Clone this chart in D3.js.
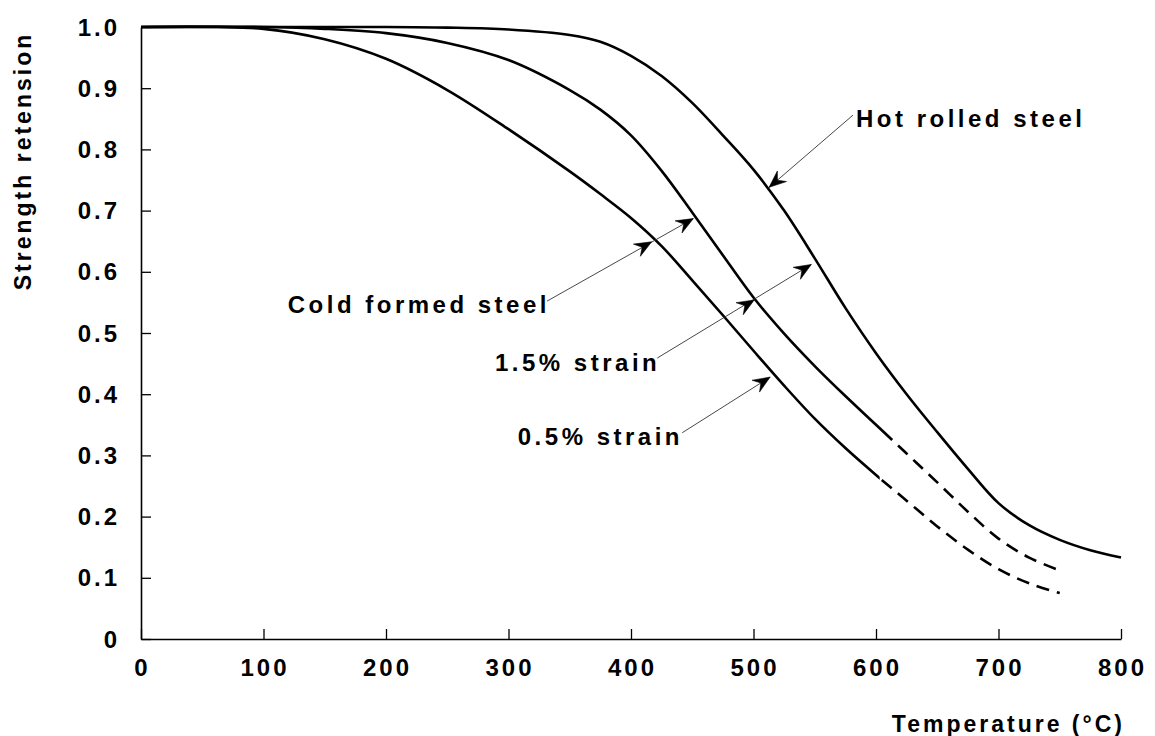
<!DOCTYPE html>
<html>
<head>
<meta charset="utf-8">
<script src="https://cdn.jsdelivr.net/npm/d3@7"></script>
<style>
  html, body { margin: 0; padding: 0; background: #fff; }
  svg { display: block; }
  text { font-family: "Liberation Sans", Arial, Helvetica, sans-serif; font-weight: bold; fill: #000; letter-spacing: 3px; }
  .annot { letter-spacing: 3.5px; }
</style>
</head>
<body>
<svg id="chart" width="1155" height="736"></svg>
<script>
// ---- data ----
const xTicks = [0, 100, 200, 300, 400, 500, 600, 700, 800];
const yTicks = [0, 0.1, 0.2, 0.3, 0.4, 0.5, 0.6, 0.7, 0.8, 0.9, 1.0];
const yTickLabels = ["0", "0.1", "0.2", "0.3", "0.4", "0.5", "0.6", "0.7", "0.8", "0.9", "1.0"];

const hotTemps   = [0, 100, 200, 250, 300, 350, 375, 400, 425, 450, 475, 500, 525, 550, 575, 600, 625, 650, 675, 700, 725, 750, 775, 800];
const hotValues  = [1.0, 1.0, 1.0, 0.999, 0.996, 0.987, 0.976, 0.953, 0.920, 0.876, 0.823, 0.767, 0.700, 0.622, 0.541, 0.467, 0.400, 0.338, 0.278, 0.222, 0.186, 0.162, 0.145, 0.133];

const c15Temps   = [0, 100, 150, 200, 250, 300, 350, 375, 400, 425, 450, 475, 500, 525, 550, 575, 600, 625, 650, 675, 700, 725, 750];
const c15Values  = [1.0, 1.0, 0.997, 0.99, 0.974, 0.946, 0.897, 0.865, 0.823, 0.765, 0.697, 0.627, 0.558, 0.499, 0.446, 0.397, 0.350, 0.303, 0.256, 0.208, 0.164, 0.133, 0.112];
const c15DashFrom = 609;

const c05Temps   = [0, 100, 150, 200, 250, 300, 350, 375, 400, 425, 450, 475, 500, 525, 550, 575, 600, 625, 650, 675, 700, 725, 750];
const c05Values  = [1.0, 0.997, 0.98, 0.948, 0.897, 0.833, 0.764, 0.727, 0.688, 0.642, 0.586, 0.529, 0.471, 0.414, 0.360, 0.312, 0.268, 0.226, 0.184, 0.146, 0.114, 0.091, 0.075];
const c05DashFrom = 603;

// annotations in data coordinates: label, text anchor point, leader start, arrow tips
const annotLabels = ["Hot rolled steel", "Cold formed steel", "1.5% strain", "0.5% strain"];
const annotText   = [[583.7, 0.837, "start"], [331.0, 0.533, "end"], [421.0, 0.438, "end"], [439.6, 0.317, "end"]];
const annotStart  = [[581.2, 0.856], [331.4, 0.552], [421.4, 0.459], [441.8, 0.337]];
const annotTips   = [[[512.7, 0.738]], [[416.9, 0.649], [450.9, 0.687]], [[500.6, 0.554], [547.2, 0.612]], [[513.6, 0.428]]];

// ---- chart ----
const svg = d3.select("#chart");
const x = d3.scaleLinear().domain([0, 800]).range([141, 1121]);
const y = d3.scaleLinear().domain([0, 1]).range([639, 27]);

// axes
const xAxis = d3.axisBottom(x).tickValues(xTicks).tickSizeInner(-10).tickSizeOuter(0).tickFormat("");
const yAxis = d3.axisLeft(y).tickValues(yTicks).tickSizeInner(-10).tickSizeOuter(0).tickFormat("");
const gx = svg.append("g").attr("transform", `translate(0,${y(0)})`).call(xAxis);
const gy = svg.append("g").attr("transform", `translate(${x(0)},0)`).call(yAxis);
[gx, gy].forEach(g => {
  g.select(".domain").attr("stroke", "#000").attr("stroke-width", 1.6);
  g.selectAll(".tick line").attr("stroke", "#000").attr("stroke-width", 1.3);
});

// tick labels
svg.append("g").selectAll("text").data(xTicks).join("text")
  .attr("x", d => x(d) + 1.5).attr("y", 676)
  .attr("text-anchor", "middle").attr("font-size", 24)
  .text(d => d);
svg.append("g").selectAll("text").data(yTicks).join("text")
  .attr("x", 120).attr("y", d => y(d)).attr("dy", "0.36em")
  .attr("text-anchor", "end").attr("font-size", 24)
  .text((d, i) => yTickLabels[i]);

// axis titles
svg.append("text").attr("x", 1125).attr("y", 732).attr("text-anchor", "end")
  .attr("font-size", 23).text("Temperature (°C)");
svg.append("text").attr("transform", "translate(31,161) rotate(-90)")
  .attr("text-anchor", "middle").attr("font-size", 23).text("Strength retension");

// clip paths for solid / dashed portions
const defs = svg.append("defs");
function clip(id, x0, x1) {
  defs.append("clipPath").attr("id", id).append("rect")
    .attr("x", x0).attr("y", 0).attr("width", x1 - x0).attr("height", 736);
}
clip("c15s", 0, x(c15DashFrom));
clip("c15d", x(c15DashFrom), 1155);
clip("c05s", 0, x(c05DashFrom));
clip("c05d", x(c05DashFrom), 1155);

const line = d3.line().x(d => x(d[0])).y(d => y(d[1])).curve(d3.curveCatmullRom.alpha(0.5));
const zip = (a, b) => a.map((t, i) => [t, b[i]]);

const curves = svg.append("g").attr("fill", "none").attr("stroke", "#000").attr("stroke-width", 2.6)
  .attr("stroke-linejoin", "round");
curves.append("path").attr("d", line(zip(hotTemps, hotValues)));
curves.append("path").attr("d", line(zip(c15Temps, c15Values))).attr("clip-path", "url(#c15s)");
curves.append("path").attr("d", line(zip(c15Temps, c15Values))).attr("clip-path", "url(#c15d)")
  .attr("stroke-dasharray", "13,8").attr("stroke-dashoffset", -2);
curves.append("path").attr("d", line(zip(c05Temps, c05Values))).attr("clip-path", "url(#c05s)");
curves.append("path").attr("d", line(zip(c05Temps, c05Values))).attr("clip-path", "url(#c05d)")
  .attr("stroke-dasharray", "13,8").attr("stroke-dashoffset", -2);

// annotations
const ag = svg.append("g");
function arrowHead(tx, ty, fx, fy) {
  const ang = Math.atan2(ty - fy, tx - fx);
  const L = 17, W = 7, N = 11;
  const pts = [[0, 0], [-L, -W], [-N, 0], [-L, W]].map(([a, b]) => [
    tx + a * Math.cos(ang) - b * Math.sin(ang),
    ty + a * Math.sin(ang) + b * Math.cos(ang)
  ]);
  ag.append("path").attr("d", "M" + pts.map(p => p.join(",")).join("L") + "Z")
    .attr("fill", "#000").attr("stroke", "#000").attr("stroke-width", 0.6).attr("stroke-linejoin", "miter");
}
annotLabels.forEach((lab, i) => {
  const [tx, tv, anchor] = annotText[i];
  ag.append("text").attr("class", "annot").attr("x", x(tx) + (anchor === "end" ? 3.5 : 0)).attr("y", y(tv))
    .attr("text-anchor", anchor).attr("font-size", 24).text(lab);
  const s = annotStart[i];
  const tips = annotTips[i];
  const last = tips[tips.length - 1];
  ag.append("line")
    .attr("x1", x(s[0])).attr("y1", y(s[1]))
    .attr("x2", x(last[0])).attr("y2", y(last[1]))
    .attr("stroke", "#333").attr("stroke-width", 0.9);
  tips.forEach(t => arrowHead(x(t[0]), y(t[1]), x(s[0]), y(s[1])));
});
</script>
</body>
</html>
